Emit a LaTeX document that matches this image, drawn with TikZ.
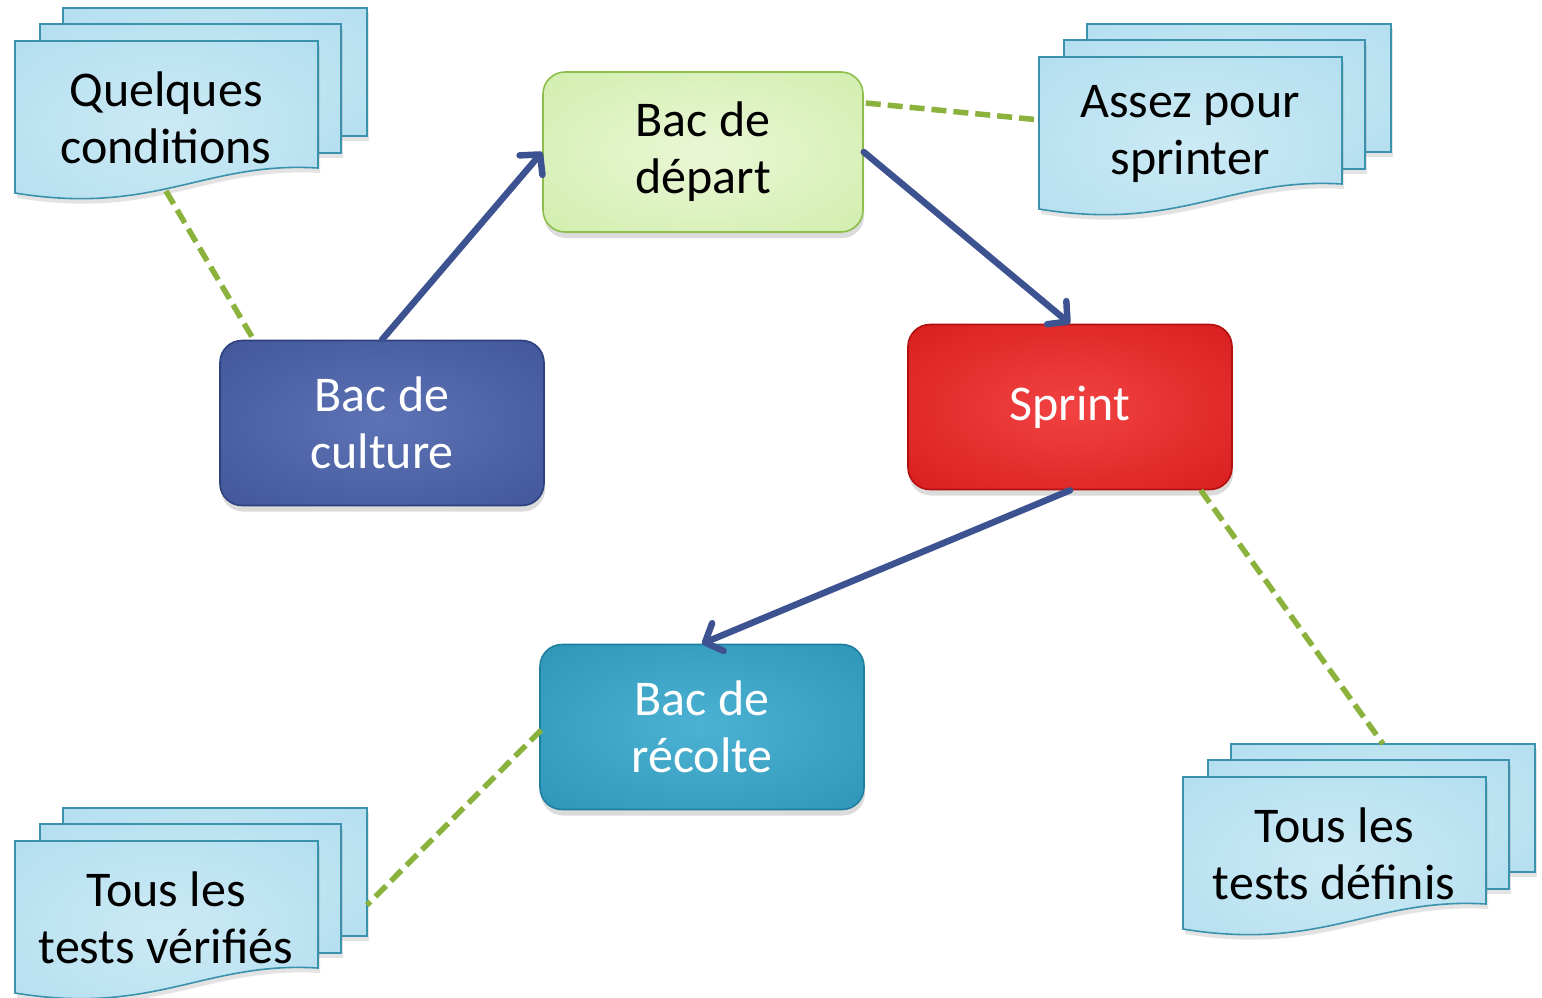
\documentclass[tikz,border=0pt]{standalone}
\usepackage{fontspec}
\setmainfont{Carlito}
\usetikzlibrary{arrows.meta,shadows,calc}
\definecolor{depin}{HTML}{EAF7D6}
\definecolor{depout}{HTML}{C4E997}
\definecolor{depline}{HTML}{8DBE4B}
\definecolor{culin}{HTML}{5D73B5}
\definecolor{culout}{HTML}{34488B}
\definecolor{culline}{HTML}{2E417F}
\definecolor{sprin}{HTML}{F24242}
\definecolor{sprout}{HTML}{CB0C0C}
\definecolor{sprline}{HTML}{B30F0F}
\definecolor{recin}{HTML}{4CB2D3}
\definecolor{recout}{HTML}{2187A8}
\definecolor{recline}{HTML}{1F7F9E}
\definecolor{shin}{HTML}{CCEAF5}
\definecolor{shout}{HTML}{A3D6EB}
\definecolor{shline}{HTML}{3B92AC}
\definecolor{arrowc}{HTML}{3D5290}
\definecolor{linkc}{HTML}{8BB23C}
\pgfdeclareradialshading{depsh}{\pgfpoint{0bp}{0bp}}{color(0bp)=(depin); color(55bp)=(depout)}
\pgfdeclareradialshading{culsh}{\pgfpoint{0bp}{0bp}}{color(0bp)=(culin); color(55bp)=(culout)}
\pgfdeclareradialshading{sprsh}{\pgfpoint{0bp}{0bp}}{color(0bp)=(sprin); color(55bp)=(sprout)}
\pgfdeclareradialshading{recsh}{\pgfpoint{0bp}{0bp}}{color(0bp)=(recin); color(55bp)=(recout)}
\pgfdeclareradialshading{sheetsh}{\pgfpoint{0bp}{0bp}}{color(0bp)=(shin); color(60bp)=(shout)}
\tikzset{
  box/.style={rounded corners=22pt, line width=1.6pt, minimum width=324pt, minimum height=165pt,
    align=center, font=\fontsize{50}{57}\selectfont,
    drop shadow={opacity=0.28, shadow xshift=1pt, shadow yshift=-6pt}},
  sheet/.style={draw=shline, line width=1.6pt, shading=sheetsh,
    drop shadow={opacity=0.22, shadow xshift=2pt, shadow yshift=-5pt}},
  doctext/.style={align=center, font=\fontsize{50}{57}\selectfont, text=black},
  flow/.style={draw=arrowc, line width=6.5pt, line cap=round,
    -{Straight Barb[length=14pt, width=30pt, line width=6.5pt, round]}},
  link/.style={draw=linkc, line width=5.5pt, dash pattern=on 15pt off 7pt}
}
\newcommand\docstack[4]{%
  \begin{scope}[shift={(#1,#2)}]
    \draw[sheet] (48,-33) rectangle (352,95);
    \draw[sheet] (25,-17) rectangle (326,112);
    \draw[sheet] (0,0) -- (303,0) -- (303,127) .. controls (190,120) and (140,175) .. (0,152) -- cycle;
    \node[doctext] (#3) at (151,77) {#4};
  \end{scope}}
\begin{document}
\begin{tikzpicture}[x=1pt, y=-1pt]
\useasboundingbox[fill=white] (0,0) rectangle (1542,997);
% document stacks
\docstack{15}{41}{quel}{Quelques\\conditions}
\docstack{1039}{57}{assez}{Assez pour\\sprinter}
\docstack{1183}{777}{tdef}{Tous les\\tests définis}
\docstack{15}{841}{tver}{Tous les\\tests vérifiés}
\coordinate (quelw) at (166,191);
\coordinate (assezl) at (1040,120);
\coordinate (tdeft) at (1383,744);
\coordinate (tverr) at (367,905);
% boxes
\node[box, draw=depline, shading=depsh, text=black, minimum width=320pt, minimum height=160pt] (dep) at (703,152) {Bac de\\départ};
\node[box, draw=culline, shading=culsh, text=white] (cul) at (382,423) {Bac de\\culture};
\node[box, draw=sprline, shading=sprsh, text=white] (spr) at (1070,407) {Sprint};
\node[box, draw=recline, shading=recsh, text=white] (rec) at (702,727) {Bac de\\récolte};
% dashed links
\draw[link] (quelw) -- ($(cul.north west)+(35,1)$);
\draw[link] ($(dep.east)+(2,-49)$) -- (assezl);
\draw[link] ($(spr.south east)+(-32,0)$) -- (tdeft);
\draw[link] ($(rec.west)+(2,3)$) -- (tverr);
% flow arrows
\draw[flow] (cul.north) -- (dep.west);
\draw[flow] (dep.east) -- (spr.north);
\draw[flow] (spr.south) -- (rec.north);
\end{tikzpicture}
\end{document}
